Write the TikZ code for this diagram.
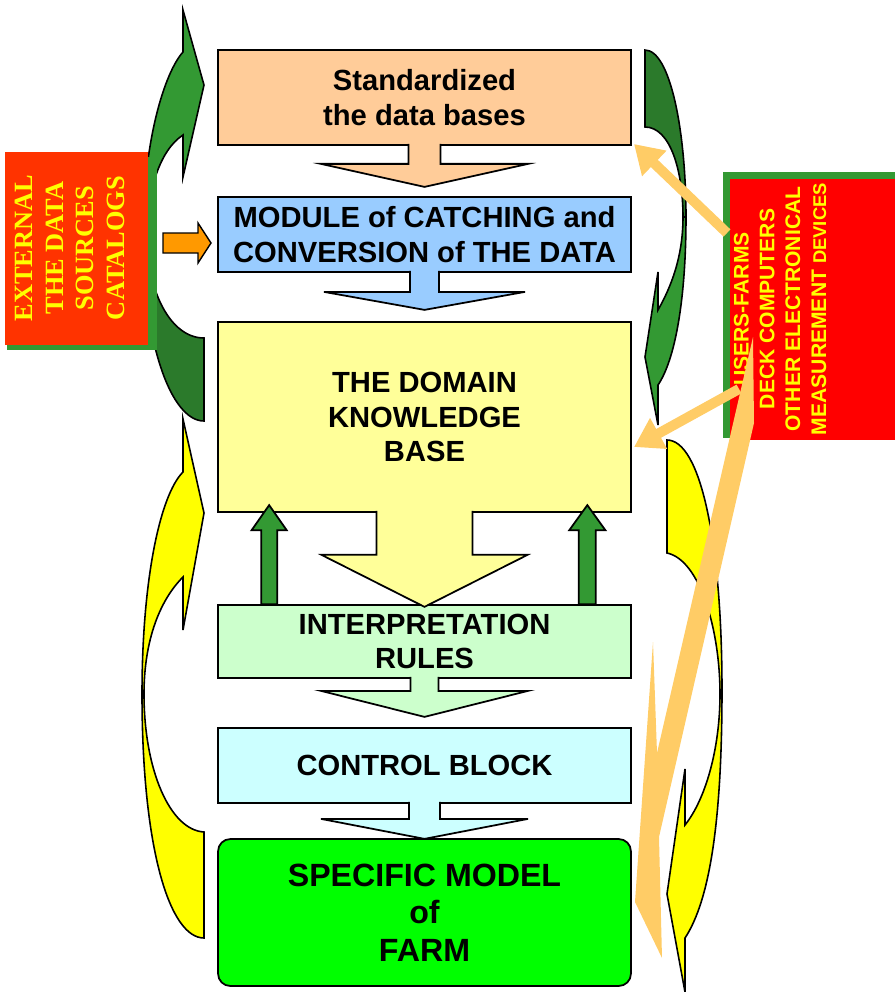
\documentclass[tikz,border=0pt]{standalone}
\usepackage{fontspec}
\setmainfont{Liberation Sans}
\newfontfamily\timesfont{Liberation Serif}
\usepackage{tikz}
\usetikzlibrary{calc,positioning}
\usetikzlibrary{arrows.meta}
\definecolor{peach}{HTML}{FFCC99}
\definecolor{lblue}{HTML}{99CCFF}
\definecolor{lyellow}{HTML}{FFFF99}
\definecolor{lgreen}{HTML}{CCFFCC}
\definecolor{lcyan}{HTML}{CCFFFF}
\definecolor{farmgreen}{HTML}{00FF00}
\definecolor{extred}{HTML}{FF3300}
\definecolor{ured}{HTML}{FF0000}
\definecolor{sgreen}{HTML}{339933}
\definecolor{dgreen}{HTML}{2B7A2B}
\definecolor{tyellow}{HTML}{FFFF00}
\definecolor{arrorange}{HTML}{FF9900}
\definecolor{lorange}{HTML}{FFCC66}
\tikzset{>={Triangle[length=16pt,width=19pt]}}

\begin{document}
\begin{tikzpicture}[x=0.02cm,y=-0.02cm]
      %%%%%%%%%%%%%%%%%%%%%%%%%%%%%%%%%%%%%%%%%%%%%%%%%%
      %% farm knowledge system
      %%%%%%%%%%%%%%%%%%%%%%%%%%%%%%%%%%%%%%%%%%%%%%%%%%
      \tikzstyle{bnode} = [draw, line width=1pt, rectangle, minimum width=8.26cm, inner sep=0pt, align=center, font=\bfseries\fontsize{16.6}{19.5}\selectfont]
      \tikzstyle{barrow} = [draw, line width=1pt]
      \tikzstyle{carrow} = [draw, line width=0.9pt]
      \useasboundingbox (0,0) rectangle (895,992);
      % curved arrows
      \path[carrow, fill=sgreen] (143,237) .. controls (143,140) and (165,72) .. (183,52) -- (183,10) -- (204,85) -- (183,177) -- (183,135) .. controls (160,150) and (147,190) .. (147,237) -- cycle;
      \path[carrow, fill=dgreen] (143,237) .. controls (143,339) and (170,421) .. (204,421) -- (204,338) .. controls (170,338) and (147,290) .. (147,237) -- cycle;
      \path[carrow, fill=dgreen] (645,50) .. controls (670,50) and (686,130) .. (686,217) -- (683,217) .. controls (683,170) and (670,127) .. (645,127) -- cycle;
      \path[carrow, fill=sgreen] (686,217) .. controls (686,300) and (675,360) .. (658,385) -- (658,425) -- (645,357) -- (658,272) -- (658,310) .. controls (675,280) and (683,250) .. (683,217) -- cycle;
      \path[carrow, fill=tyellow] (183,419) -- (204,513) -- (183,630) -- (183,577) .. controls (160,600) and (144,640) .. (144,694) .. controls (144,770) and (170,830) .. (204,832) -- (204,938) .. controls (170,938) and (142,850) .. (142,694) .. controls (142,580) and (160,495) .. (183,472) -- cycle;
      \path[carrow, fill=tyellow] (667,440) .. controls (700,440) and (722,540) .. (722,690) .. controls (722,820) and (710,900) .. (685,938) -- (685,992) -- (667,894) -- (685,769) -- (685,825) .. controls (705,800) and (720,750) .. (720,694) .. controls (720,630) and (700,560) .. (667,553) -- cycle;
      % main column
      \node[bnode, fill=peach, minimum height=1.9cm] (std) at (424.5,97.5) {Standardized\\the data bases};
      \node[bnode, fill=lblue, minimum height=1.5cm] (mod) at (424.5,234.5) {MODULE of CATCHING and\\CONVERSION of THE DATA};
      \node[bnode, fill=lyellow, minimum height=3.8cm] (dkb) at (424.5,417) {THE DOMAIN\\KNOWLEDGE\\BASE};
      \node[bnode, fill=lgreen, minimum height=1.46cm] (rules) at (424.5,641.5) {INTERPRETATION\\RULES};
      \node[bnode, fill=lcyan, minimum height=1.5cm] (ctrl) at (424.5,765.5) {CONTROL BLOCK};
      \node[bnode, fill=farmgreen, minimum height=2.94cm, rounded corners=7pt, font=\bfseries\fontsize{18.3}{21.3}\selectfont] (farm) at (424.5,912.5) {SPECIFIC MODEL\\of\\FARM};
      % block arrows
      \filldraw[barrow, fill=peach] ($(std.south)+(-16,-2)$) -- ++(0,20) -- ++(-87.5,0) -- ($(std.south)+(0,41)$) -- ($(std.south)+(103.5,18)$) -- ++(-87.5,0) -- ++(0,-20);
      \filldraw[barrow, fill=lblue] ($(mod.south)+(-14.5,-2)$) -- ++(0,21) -- ++(-86,0) -- ($(mod.south)+(0,37)$) -- ($(mod.south)+(100.5,19)$) -- ++(-86,0) -- ++(0,-21);
      \filldraw[barrow, fill=lyellow] ($(dkb.south)+(-48,-2)$) -- ++(0,44) -- ++(-55,0) -- ($(dkb.south)+(0,94)$) -- ($(dkb.south)+(103,42)$) -- ++(-55,0) -- ++(0,-44);
      \filldraw[barrow, fill=lgreen] ($(rules.south)+(-14,-2)$) -- ++(0,14) -- ++(-89.5,0) -- ($(rules.south)+(0,38)$) -- ($(rules.south)+(103.5,12)$) -- ++(-89.5,0) -- ++(0,-14);
      \filldraw[barrow, fill=lcyan] ($(ctrl.south)+(-15.5,-2)$) -- ++(0,17) -- ++(-88,0) -- ($(ctrl.south)+(0,35)$) -- ($(ctrl.south)+(103.5,15)$) -- ++(-88,0) -- ++(0,-17);
      \filldraw[barrow, fill=sgreen] ($(rules.north west)+(44,0)$) -- ++(0,-74) -- ++(-9.5,0) -- ++(17.5,-25) -- ++(17.5,25) -- ++(-9.5,0) -- ++(0,74) -- cycle;
      \filldraw[barrow, fill=sgreen] ($(rules.north east)+(-53,0)$) -- ++(0,-74) -- ++(-9.5,0) -- ++(18,-25) -- ++(18,25) -- ++(-9.5,0) -- ++(0,74) -- cycle;
      % sources
      \fill[sgreen] (7,157) rectangle (157,350);
      \node[fill=extred, minimum width=2.86cm, minimum height=3.86cm, inner sep=0pt] (ext) at (76.5,248.5) {};
      \node[rotate=90, align=center, text=tyellow, font=\timesfont\bfseries\fontsize{15}{17.5}\selectfont] (extlbl) at (70,248) {EXTERNAL\\THE DATA\\SOURCES\\CATALOGS};
      \fill[sgreen] (723,172) rectangle (895,438);
      \node[fill=ured, minimum width=3.3cm, minimum height=5.22cm, inner sep=0pt] (users) at (812.5,309.5) {};
      \node[rotate=90, align=center, text=tyellow, font=\bfseries\fontsize{12}{14.7}\selectfont] (userslbl) at (780,309) {USERS-FARMS\\DECK COMPUTERS\\OTHER ELECTRONICAL\\MEASUREMENT {\fontsize{10.5}{14.7}\selectfont DEVICES}};
      % feeds
      \filldraw[fill=arrorange, line width=0.8pt] (163,233) -- (198,233) -- (198,223) -- (211,243) -- (198,263) -- (198,253) -- (163,253) -- cycle;
      \coordinate (u1) at (727,233);
      \coordinate (t1) at (634,144);
      \coordinate (u2) at (739,389);
      \coordinate (t2) at (634,447);
      \draw[lorange, line width=5.7pt, ->] (u1) -- (t1);
      \draw[lorange, line width=5.7pt, ->] (u2) -- (t2);
      \fill[lorange] (753,337) -- (754,423) -- (659,837) -- (662,958) -- (635,902) -- (653,642) -- (657,753) -- cycle;
\end{tikzpicture}
\end{document}
